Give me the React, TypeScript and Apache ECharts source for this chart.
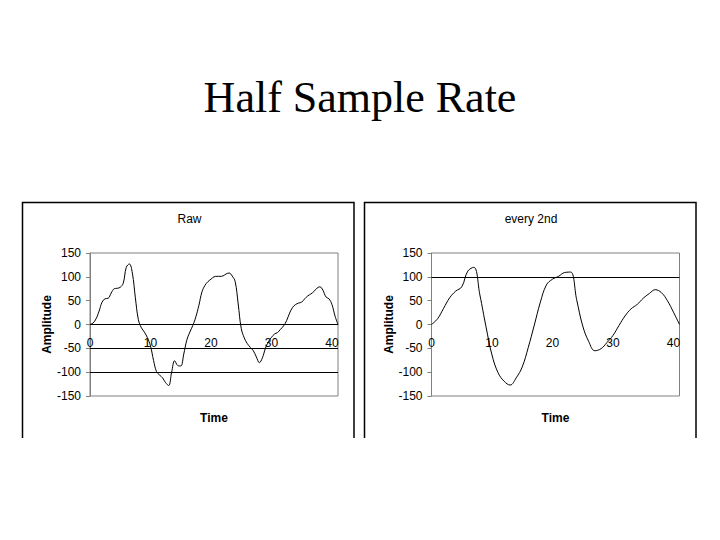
import React, { useEffect, useRef } from "react";
import * as echarts from "echarts";

const pageTitle = "Half Sample Rate";
const leftTitle = "Raw";
const rightTitle = "every 2nd";
const xName = "Time";
const yName = "Amplitude";

const yMin = -150;
const yMax = 150;
const yStep = 50;
const xMin = 0;
const xMax = 41;
const xStep = 10;

const rawTime = [
  0, 0.5, 1, 1.5, 2, 2.5, 3, 3.5, 4, 4.5, 5, 5.5, 6, 6.5, 7, 7.5, 8, 8.5, 9, 9.5,
  10, 10.5, 11, 11.5, 12, 12.5, 13, 13.5, 14, 14.5, 15, 15.5, 16, 16.5, 17, 17.5,
  18, 18.5, 19, 19.5, 20, 20.5, 21, 21.5, 22, 22.5, 23, 23.5, 24, 24.5, 25, 25.5,
  26, 26.5, 27, 27.5, 28, 28.5, 29, 29.5, 30, 30.5, 31, 31.5, 32, 32.5, 33, 33.5,
  34, 34.5, 35, 35.5, 36, 36.5, 37, 37.5, 38, 38.5, 39, 39.5, 40, 40.5, 41,
];
const rawAmp = [
  0, 3, 12, 28, 47, 54, 55, 66, 75, 76, 78, 87, 120, 127, 108, 56, 10, -7, -16, -28,
  -45, -75, -99, -106, -112, -122, -128, -100, -76, -86, -87, -62, -33, -16, -2, 16,
  40, 68, 82, 90, 95, 100, 101, 101, 102, 106, 108, 102, 90, 43, -8, -28,
  -40, -48, -55, -68, -80, -70, -50, -36, -27, -20, -17, -10, -3, 8, 24, 36,
  42, 45, 47, 54, 60, 64, 69, 76, 79, 72, 58, 54, 42, 18, 0,
];

const halfTime = [
  0, 1, 2, 3, 4, 5, 6, 7, 8, 9, 10, 11, 12, 13, 14, 15, 16, 17, 18, 19, 20,
  21, 22, 23, 24, 25, 26, 27, 28, 29, 30, 31, 32, 33, 34, 35, 36, 37, 38, 39, 40, 41,
];
const halfAmp = [
  0, 12, 34, 56, 70, 79, 112, 120, 62, -4, -64, -101, -119, -127, -112, -89, -48, -1, 47, 83, 95,
  101, 109, 110, 52, -3, -36, -55, -51, -38, -23, -2, 18, 33, 42, 55, 65, 73, 67, 50, 26, 0,
];

const leftGuides = [0, -50, -100];
const rightGuides = [100];

const FONT = "Liberation Sans, Arial, sans-serif";

function pairs(xs: number[], ys: number[]) {
  return xs.map((x, i) => [x, ys[i]]);
}

export default function App() {
  const ref = useRef<HTMLDivElement>(null);

  useEffect(() => {
    if (!ref.current) return;
    const chart = echarts.init(ref.current, undefined, { renderer: "svg" });

    const grids = [
      { left: 90, top: 253, width: 248, height: 143 },
      { left: 431.5, top: 253, width: 248, height: 143 },
    ];

    // x labels sit just below the zero level (Excel "axis crosses at 0" style)
    const labelMargin = -59;

    const xAxes: any[] = grids.map((_, gi) => ({
      type: "value",
      gridIndex: gi,
      min: xMin,
      max: xMax,
      interval: xStep,
      position: "bottom",
      axisLine: { show: false, onZero: false },
      axisTick: { show: false },
      splitLine: { show: false },
      axisLabel: {
        color: "#000",
        fontFamily: FONT,
        fontSize: 12,
        margin: labelMargin,
        showMaxLabel: false,
        formatter: (v: number) => (v % xStep === 0 ? String(v) : ""),
      },
      name: xName,
      nameLocation: "middle",
      nameGap: 16,
      nameTextStyle: { color: "#000", fontFamily: FONT, fontSize: 12, fontWeight: "bold" },
    }));

    const yAxes: any[] = grids.map((_, gi) => ({
      type: "value",
      gridIndex: gi,
      min: yMin,
      max: yMax,
      interval: yStep,
      axisLine: { show: true, onZero: false, lineStyle: { color: "#808080", width: 1 } },
      axisTick: { show: true, length: 4, lineStyle: { color: "#808080" } },
      splitLine: { show: false },
      axisLabel: { color: "#000", fontFamily: FONT, fontSize: 12, margin: 9 },
      name: yName,
      nameLocation: "middle",
      nameRotate: 90,
      nameGap: 37,
      nameTextStyle: { color: "#000", fontFamily: FONT, fontSize: 12, fontWeight: "bold" },
    }));

    const guide = (vals: number[]) => ({
      silent: true,
      symbol: ["none", "none"],
      label: { show: false },
      lineStyle: { color: "#000", width: 1.2, type: "solid" },
      emphasis: { disabled: true },
      data: vals.map((v) => ({ yAxis: v })),
    });

    const option: any = {
      animation: false,
      backgroundColor: "#fff",
      grid: grids.map((g) => ({
        ...g,
        show: true,
        borderColor: "#808080",
        borderWidth: 1,
        backgroundColor: "transparent",
        containLabel: false,
      })),
      xAxis: xAxes,
      yAxis: yAxes,
      series: [
        {
          type: "line",
          name: leftTitle,
          xAxisIndex: 0,
          yAxisIndex: 0,
          data: pairs(rawTime, rawAmp),
          smooth: 0.4,
          showSymbol: false,
          symbol: "none",
          lineStyle: { color: "#000", width: 1 },
          emphasis: { disabled: true },
          markLine: guide(leftGuides),
          z: 3,
        },
        {
          type: "line",
          name: rightTitle,
          xAxisIndex: 1,
          yAxisIndex: 1,
          data: pairs(halfTime, halfAmp),
          smooth: 0.4,
          showSymbol: false,
          symbol: "none",
          lineStyle: { color: "#000", width: 1 },
          emphasis: { disabled: true },
          markLine: guide(rightGuides),
          z: 3,
        },
      ],
      graphic: [
        {
          type: "text",
          x: 360,
          y: 97,
          style: {
            text: pageTitle,
            font: "44px 'Liberation Serif', 'Times New Roman', serif",
            fill: "#000",
            textAlign: "center",
            textVerticalAlign: "middle",
          },
        },
        {
          type: "polyline",
          shape: { points: [[22.5, 438], [22.5, 202.5], [354, 202.5], [354, 438]] },
          style: { stroke: "#000", lineWidth: 1.5, fill: "none" },
        },
        {
          type: "polyline",
          shape: { points: [[364.5, 438], [364.5, 202.5], [696, 202.5], [696, 438]] },
          style: { stroke: "#000", lineWidth: 1.5, fill: "none" },
        },
        {
          type: "text",
          x: 189.5,
          y: 218.5,
          style: {
            text: leftTitle,
            font: "12px 'Liberation Sans', Arial, sans-serif",
            fill: "#000",
            textAlign: "center",
            textVerticalAlign: "middle",
          },
        },
        {
          type: "text",
          x: 531,
          y: 218.5,
          style: {
            text: rightTitle,
            font: "12px 'Liberation Sans', Arial, sans-serif",
            fill: "#000",
            textAlign: "center",
            textVerticalAlign: "middle",
          },
        },
      ],
    };

    chart.setOption(option);
    return () => chart.dispose();
  }, []);

  return (
    <div
      ref={ref}
      style={{ position: "fixed", left: 0, top: 0, width: 720, height: 540, background: "#fff" }}
    />
  );
}
